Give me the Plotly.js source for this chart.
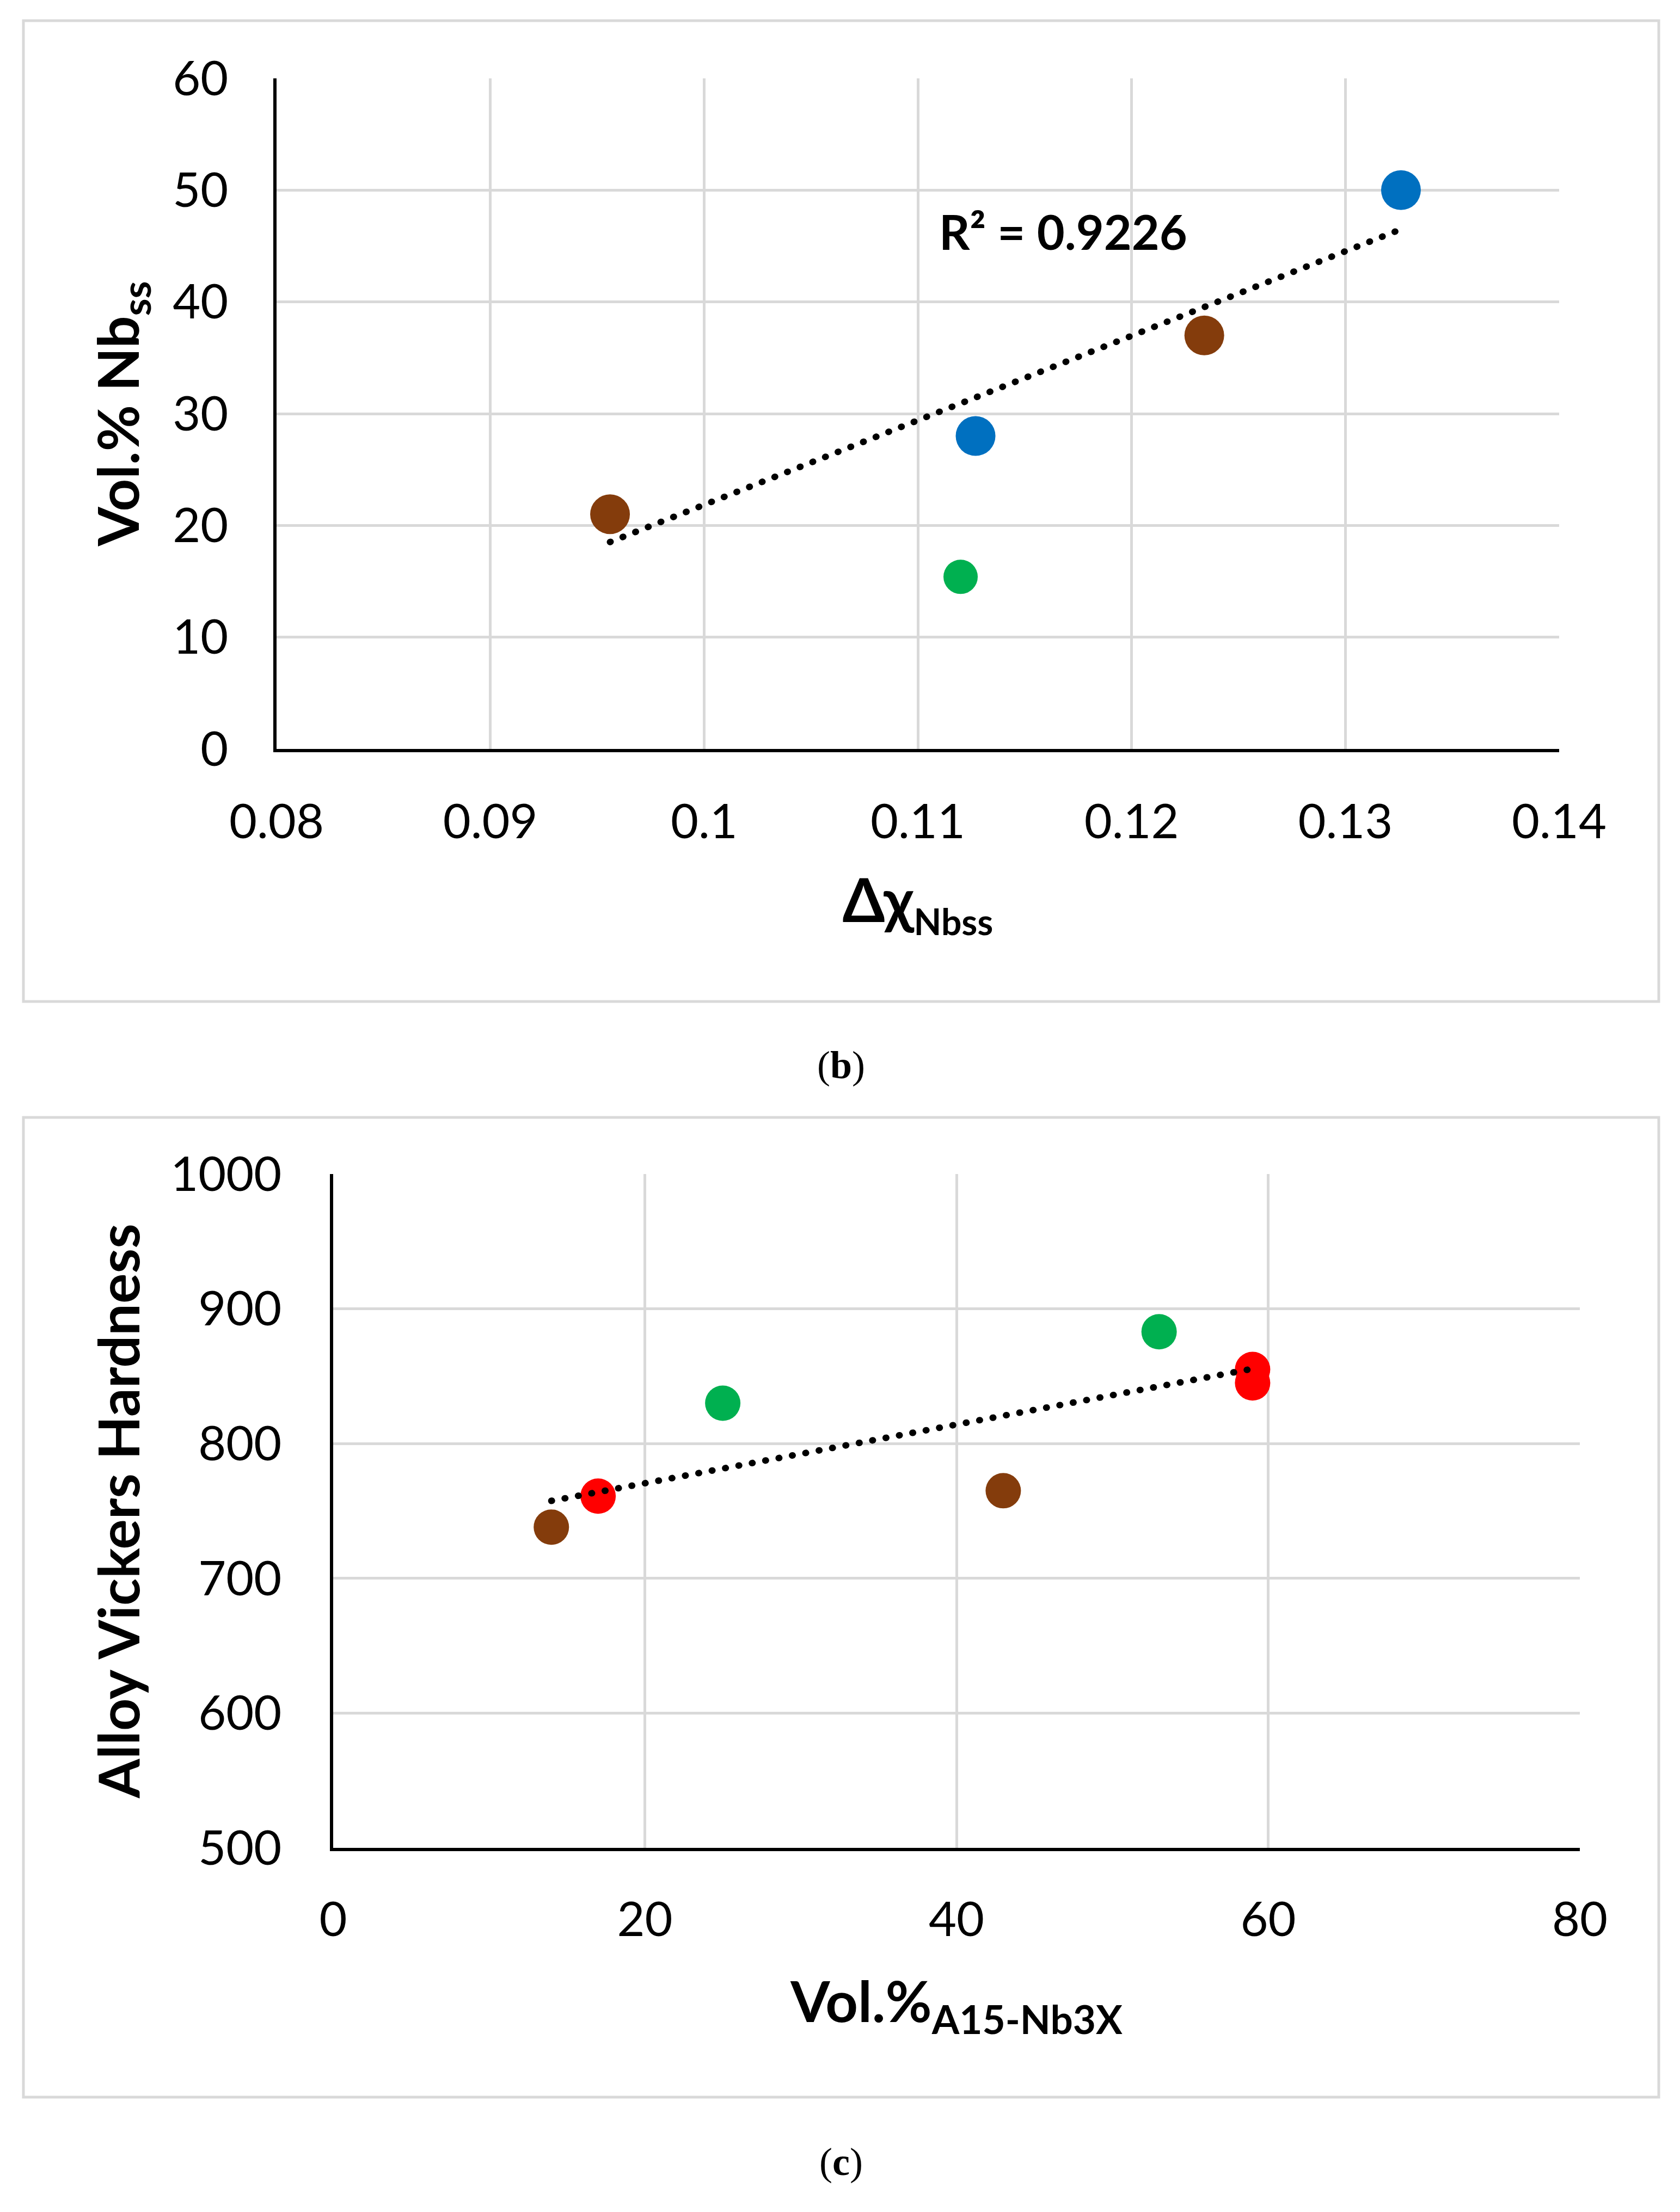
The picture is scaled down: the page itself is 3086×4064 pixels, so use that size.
<!DOCTYPE html>
<html>
<head>
<meta charset="utf-8">
<script src="https://cdn.plot.ly/plotly-3.0.1.min.js"></script>
<style>
  html, body { margin: 0; padding: 0; background: #fff; }
  #chart { width: 3086px; height: 4064px; }
  /* Excel-style round dotted trendline */
  .scatterlayer .js-line { stroke-linecap: round; }
</style>
</head>
<body>
<div id="chart"></div>
<script>
/* global Plotly */
// (b) Vol.% Nbss against delta chi of Nbss
const bBrownX = [0.0956, 0.1234];
const bBrownY = [21, 37];
const bBlueX = [0.1127, 0.1326];
const bBlueY = [28, 50];
const bGreenX = [0.112];
const bGreenY = [15.4];
const bR2Text = "R² = 0.9226";

// (c) alloy hardness against Vol.% A15-Nb3X
const cBrownX = [14, 43];
const cBrownY = [738, 765];
const cRedX = [17, 59, 59];
const cRedY = [761, 855, 845];
const cGreenX = [25, 53];
const cGreenY = [830, 883];

const bXTicks = [0.08, 0.09, 0.1, 0.11, 0.12, 0.13, 0.14];
const bXTickText = ["0.08", "0.09", "0.1", "0.11", "0.12", "0.13", "0.14"];
const bYTicks = [0, 10, 20, 30, 40, 50, 60];
const cXTicks = [0, 20, 40, 60, 80];
const cYTicks = [500, 600, 700, 800, 900, 1000];

const W = 3086;
const H = 4064;
const fx = (v) => v / W;
const fy = (v) => 1 - v / H;

const COLORS = {
  brown: "#843C0C",
  blue: "#0070C0",
  green: "#00B050",
  red: "#FF0000",
  grid: "#D9D9D9",
};
const FONT = "Lato, 'Open Sans', sans-serif";

// least squares line over the given points, drawn between min and max x
function trendLine(xs, ys) {
  const n = xs.length;
  const mx = xs.reduce((a, b) => a + b, 0) / n;
  const my = ys.reduce((a, b) => a + b, 0) / n;
  let sxy = 0;
  let sxx = 0;
  xs.forEach((x, i) => {
    sxy += (x - mx) * (ys[i] - my);
    sxx += (x - mx) * (x - mx);
  });
  const slope = sxy / sxx;
  const x0 = Math.min(...xs);
  const x1 = Math.max(...xs);
  return {
    x: [x0, x1],
    y: [my + slope * (x0 - mx), my + slope * (x1 - mx)],
  };
}

function dots(x, y, color, size, xa, ya) {
  return {
    x,
    y,
    xaxis: xa,
    yaxis: ya,
    type: "scatter",
    mode: "markers",
    marker: { color, size, line: { width: 0 } },
    hoverinfo: "skip",
  };
}

function trendTrace(t, xa, ya) {
  return {
    x: t.x,
    y: t.y,
    xaxis: xa,
    yaxis: ya,
    type: "scatter",
    mode: "lines",
    line: { color: "#000", width: 12, dash: "1px,24px" },
    hoverinfo: "skip",
  };
}

const bTrend = trendLine(bBrownX.concat(bBlueX), bBrownY.concat(bBlueY));
const cTrend = trendLine(
  cBrownX.concat(cRedX, cGreenX),
  cBrownY.concat(cRedY, cGreenY),
);

const data = [
  dots(bBrownX, bBrownY, COLORS.brown, 73, "x", "y"),
  dots(bBlueX, bBlueY, COLORS.blue, 73, "x", "y"),
  dots(bGreenX, bGreenY, COLORS.green, 63, "x", "y"),
  trendTrace(bTrend, "x", "y"),
  dots(cBrownX, cBrownY, COLORS.brown, 65, "x2", "y2"),
  dots(cGreenX, cGreenY, COLORS.green, 65, "x2", "y2"),
  dots(cRedX, cRedY, COLORS.red, 65, "x2", "y2"),
  trendTrace(cTrend, "x2", "y2"),
];

const baseAxis = {
  showgrid: true,
  gridcolor: COLORS.grid,
  gridwidth: 5,
  zeroline: false,
  ticks: "",
  tickfont: { family: FONT, size: 88, color: "#000" },
  fixedrange: true,
};

const layout = {
  width: W,
  height: H,
  margin: { l: 0, r: 0, t: 0, b: 0, pad: 0 },
  paper_bgcolor: "#fff",
  plot_bgcolor: "#fff",
  showlegend: false,
  font: { family: FONT, color: "#000" },
  xaxis: {
    ...baseAxis,
    domain: [fx(508), fx(2864)],
    anchor: "y",
    range: [0.08, 0.14],
    tickvals: bXTicks,
    ticktext: bXTickText,
    ticklabelstandoff: 52,
    showline: true,
    linecolor: "#000",
    linewidth: 6,
    title: {
      text: 'Δχ<sub><span style="font-size:66px">Nbss</span></sub>',
      font: { family: FONT, size: 112, color: "#000", weight: "bold" },
      standoff: 60,
    },
  },
  yaxis: {
    ...baseAxis,
    domain: [fy(1376), fy(144)],
    anchor: "x",
    range: [0, 60],
    tickvals: bYTicks,
    ticklabelstandoff: 65,
    showline: true,
    linecolor: "#000",
    linewidth: 6,
    title: {
      text: "Vol.% Nb<sub>ss</sub>",
      font: { family: FONT, size: 104, color: "#000", weight: "bold" },
      standoff: 29,
    },
  },
  xaxis2: {
    ...baseAxis,
    domain: [fx(612), fx(2902)],
    anchor: "y2",
    range: [0, 80],
    tickvals: cXTicks,
    ticklabelstandoff: 50,
    showline: true,
    linecolor: "#000",
    linewidth: 6,
    title: {
      text: "Vol.%<sub>A15-Nb3X</sub>",
      font: { family: FONT, size: 104, color: "#000", weight: "bold" },
      standoff: 70,
    },
  },
  yaxis2: {
    ...baseAxis,
    domain: [fy(3395), fy(2157)],
    anchor: "x2",
    range: [500, 1000],
    tickvals: cYTicks,
    ticklabelstandoff: 71,
    showline: true,
    linecolor: "#000",
    linewidth: 6,
    title: {
      text: "Alloy Vickers Hardness",
      font: { family: FONT, size: 104, color: "#000", weight: "bold" },
      standoff: 24,
    },
  },
  shapes: [
    {
      type: "rect",
      xref: "paper",
      yref: "paper",
      x0: fx(43),
      x1: fx(3047),
      y0: fy(1840),
      y1: fy(38),
      line: { color: COLORS.grid, width: 5 },
      layer: "below",
    },
    {
      type: "rect",
      xref: "paper",
      yref: "paper",
      x0: fx(43),
      x1: fx(3047),
      y0: fy(3853),
      y1: fy(2053),
      line: { color: COLORS.grid, width: 5 },
      layer: "below",
    },
  ],
  annotations: [
    {
      xref: "x",
      yref: "y",
      x: 0.1168,
      y: 46.3,
      text: "<b>" + bR2Text + "</b>",
      showarrow: false,
      xanchor: "center",
      yanchor: "middle",
      font: { family: FONT, size: 88, color: "#000" },
    },
    {
      xref: "paper",
      yref: "paper",
      x: fx(1545),
      y: fy(1957),
      text: "(<b>b</b>)",
      showarrow: false,
      xanchor: "center",
      yanchor: "middle",
      font: { family: "'Liberation Serif', 'DejaVu Serif', serif", size: 72, color: "#000" },
    },
    {
      xref: "paper",
      yref: "paper",
      x: fx(1545),
      y: fy(3972),
      text: "(<b>c</b>)",
      showarrow: false,
      xanchor: "center",
      yanchor: "middle",
      font: { family: "'Liberation Serif', 'DejaVu Serif', serif", size: 72, color: "#000" },
    },
  ],
};

Plotly.newPlot(document.getElementById("chart"), data, layout, {
  staticPlot: true,
  displayModeBar: false,
});
</script>
</body>
</html>
